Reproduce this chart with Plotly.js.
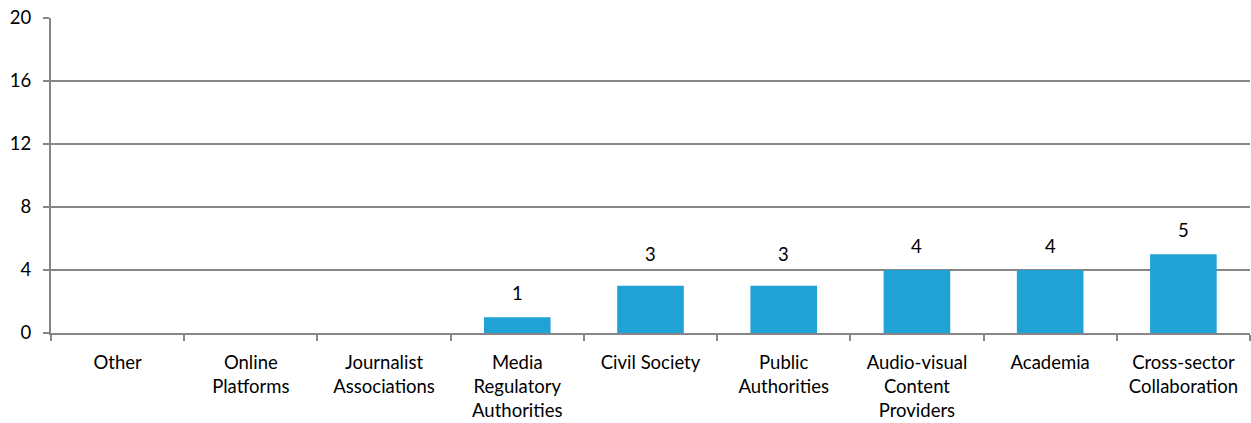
<!DOCTYPE html>
<html><head><meta charset="utf-8">
<script src="https://cdn.plot.ly/plotly-3.0.1.min.js"></script>
<style>html,body{margin:0;padding:0;background:#fff}#chart{width:1251px;height:423px}</style>
</head><body><div id="chart"></div>
<script>
const categories = ["Other","Online<br>Platforms","Journalist<br>Associations","Media<br>Regulatory<br>Authorities","Civil Society","Public<br>Authorities","Audio-visual<br>Content<br>Providers","Academia","Cross-sector<br>Collaboration"];
const values = [0,0,0,1,3,3,4,4,5];
const yTicks = [0,4,8,12,16,20];

const font = {family: "Lato, 'Open Sans', sans-serif", size: 18.5, color: "#000"};
// labels sit above the bar; if that collides with a gridline, move above the gridline
function labelY(v) {
  let y = v + 1.52;
  const g = Math.round(y / 4) * 4;
  if (Math.abs(y - g) < 0.63) y = g + 1.0;
  return y;
}
const annotations = values.map((v,i) => v > 0 ? {
  x: categories[i], y: labelY(v), text: String(v), showarrow: false,
  yanchor: "middle", font: font
} : null).filter(a => a);

Plotly.newPlot("chart", [{
  type: "bar", x: categories, y: values, width: 0.5,
  marker: {color: "#21A2D5"}, hoverinfo: "none"
}], {
  width: 1251, height: 423,
  margin: {l: 51, r: 1, t: 18, b: 90},
  paper_bgcolor: "#fff", plot_bgcolor: "#fff",
  showlegend: false,
  font: font,
  xaxis: {
    type: "category", tickson: "boundaries", ticks: "outside", ticklen: 6,
    tickcolor: "#868686", tickwidth: 2, showline: true, linecolor: "#868686", linewidth: 2,
    showgrid: false, tickfont: font, fixedrange: true, ticklabelstandoff: 12
  },
  yaxis: {
    range: [0, 20], tickvals: yTicks, ticktext: yTicks.map(String),
    ticks: "outside", ticklen: 6, tickcolor: "#868686", tickwidth: 2,
    showline: true, linecolor: "#868686", linewidth: 2,
    showgrid: true, gridcolor: "#868686", gridwidth: 2, zeroline: false,
    tickfont: font, fixedrange: true, ticklabelstandoff: 8
  },
  annotations: annotations,
  bargap: 0.5
}, {displayModeBar: false, staticPlot: true});
</script></body></html>
